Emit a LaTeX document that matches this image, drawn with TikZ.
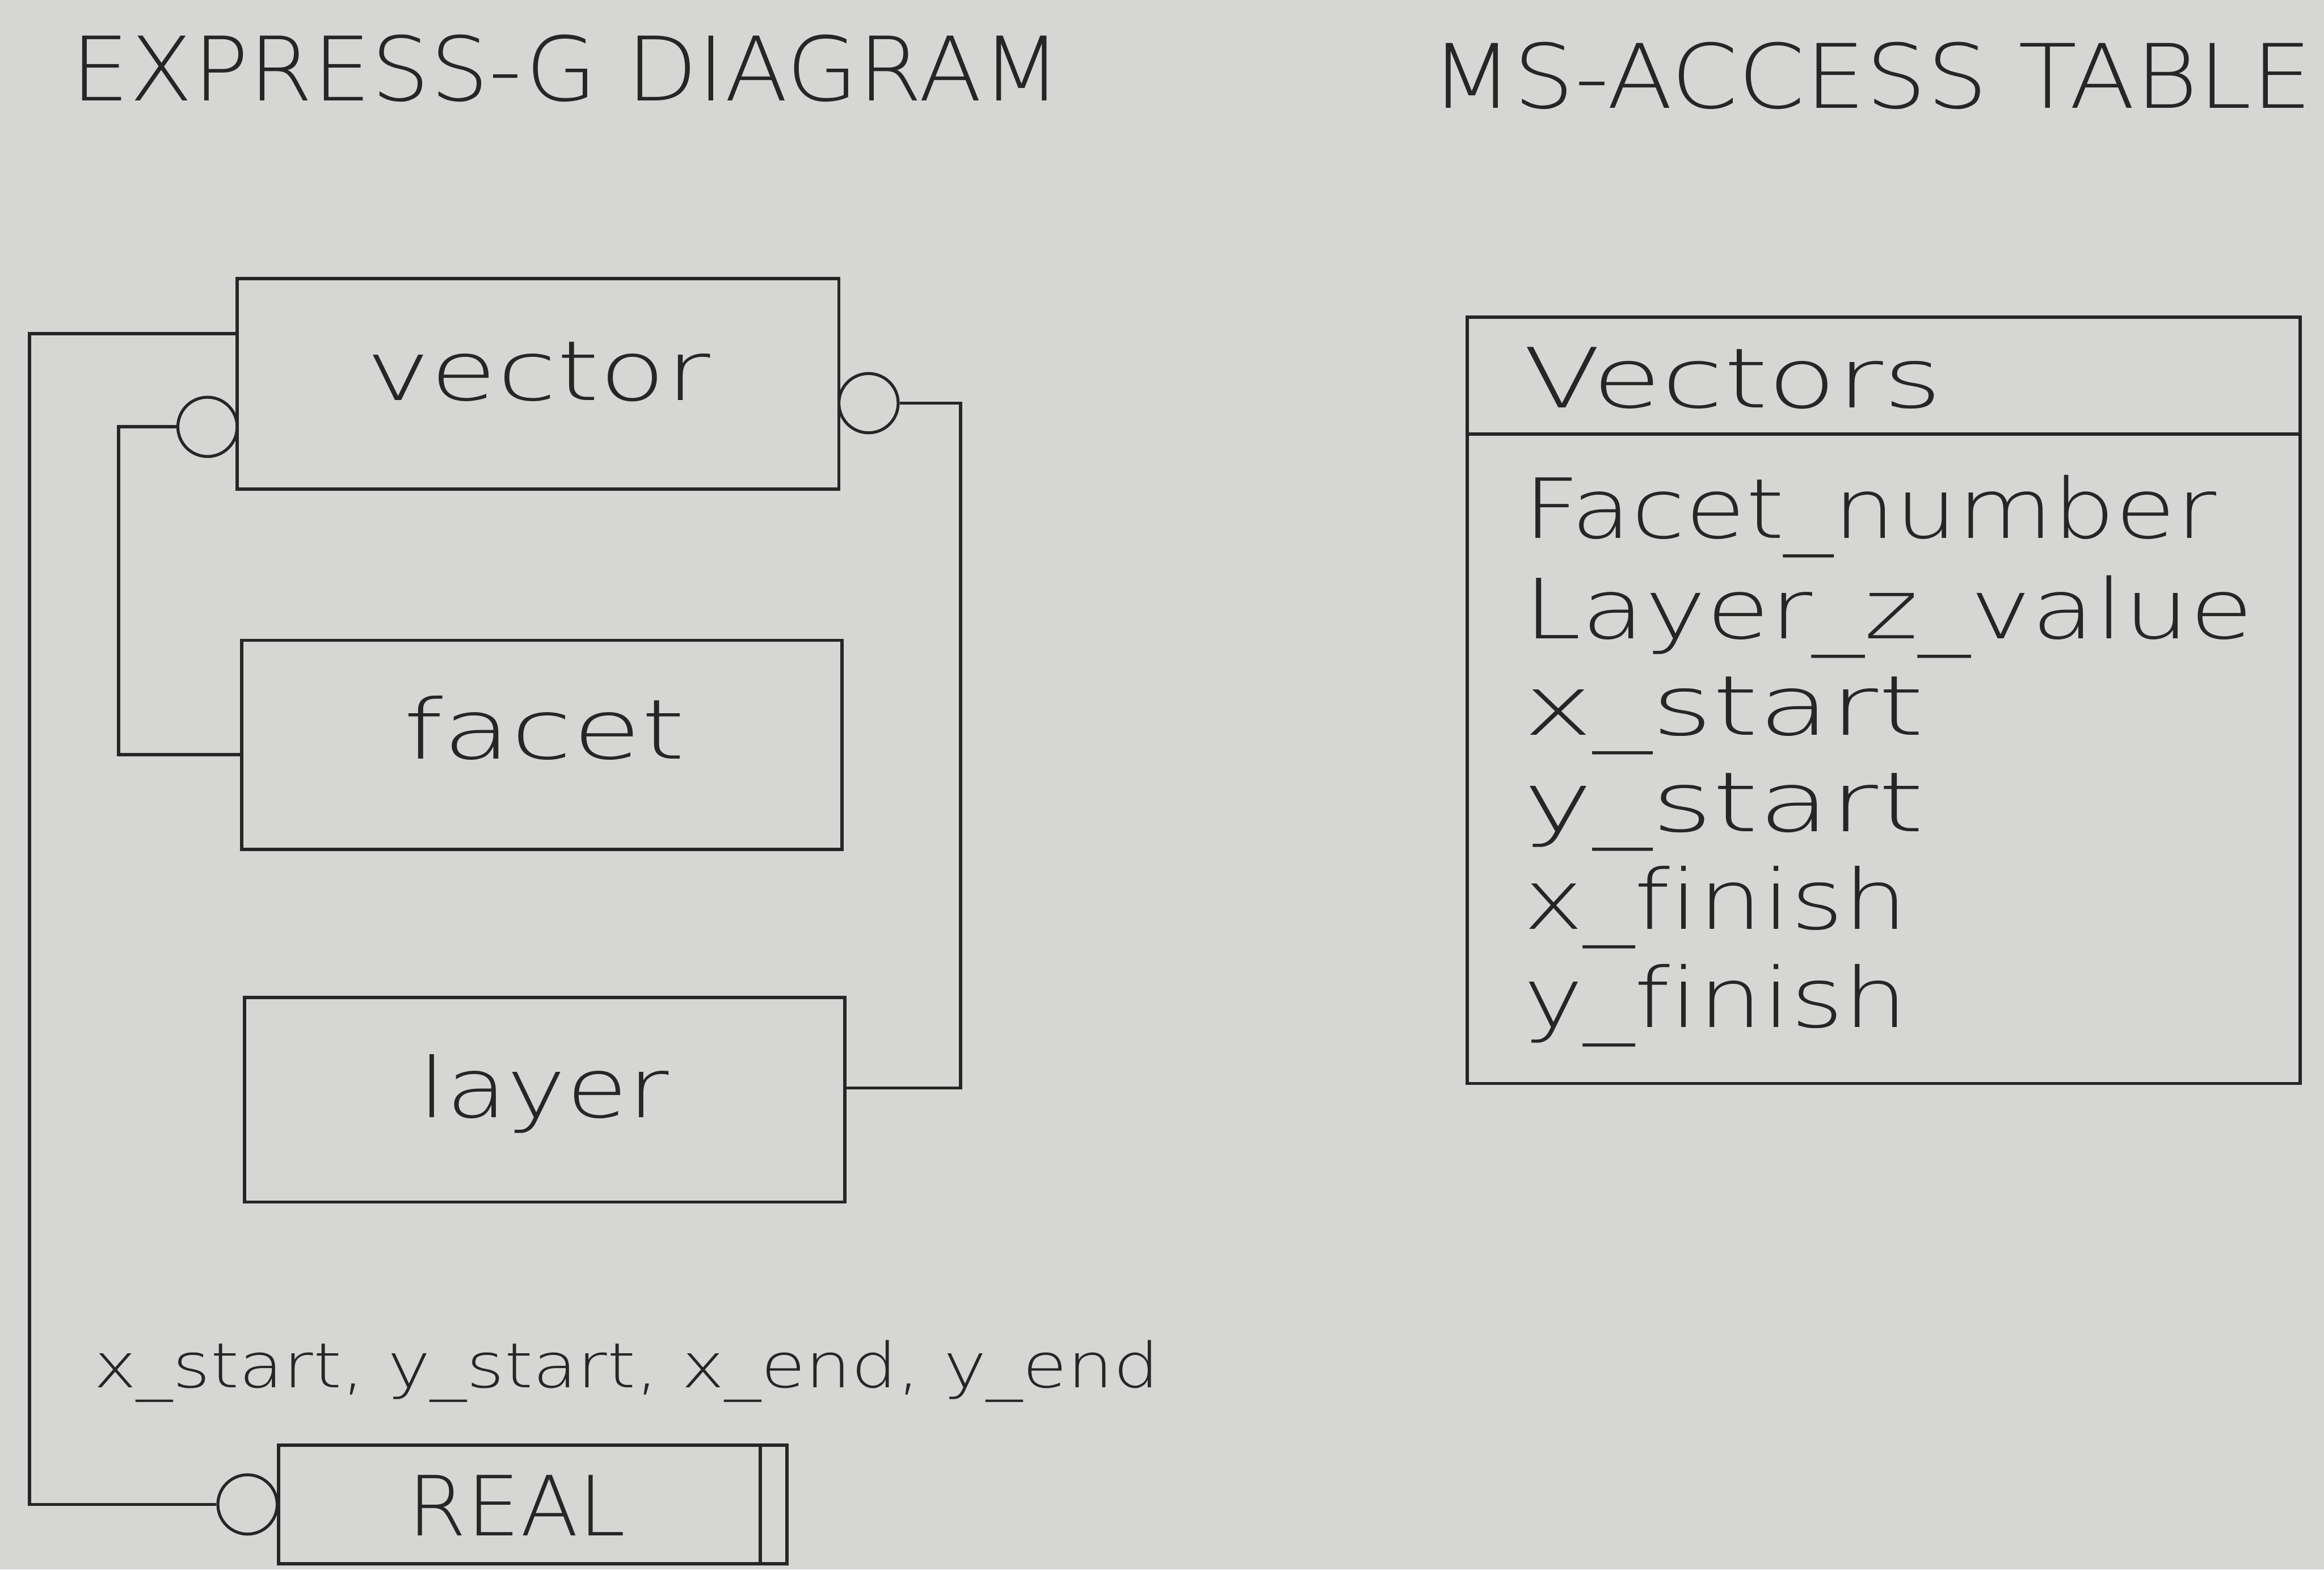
\documentclass[tikz,border=0pt]{standalone}
\usepackage{fontspec}
\usepackage{graphicx}
\newfontfamily\cad{DejaVu Sans ExtraLight}[Ligatures={NoCommon}]
\definecolor{bg}{RGB}{214,214,212}
\definecolor{ink}{RGB}{38,38,38}
\newcommand\fitw[2]{\resizebox{#1pt}{\height}{#2}}
\begin{document}
\begin{tikzpicture}[x=1pt,y=-1pt,
  ent/.style={draw=ink, line width=2.2pt, rectangle, inner sep=0pt},
  tbl/.style={draw=ink, line width=2.2pt, rectangle, inner sep=0pt, minimum width=562pt, minimum height=517pt},
  lbl/.style={inner sep=0pt, anchor=base west, text=ink, font=\cad\fontsize{56}{56}\selectfont},
  ttl/.style={inner sep=0pt, anchor=base west, text=ink, font=\cad\fontsize{60}{60}\selectfont},
  sml/.style={inner sep=0pt, anchor=base west, text=ink, font=\cad\fontsize{42}{42}\selectfont},
  ring/.style={circle, draw=ink, line width=2pt, minimum size=40pt, inner sep=0pt},
  conn/.style={draw=ink, line width=2.2pt, line join=miter}]
\fill[bg] (0,0) rectangle (1568,1059);
\useasboundingbox (0,0) rectangle (1568,1059);

% titles
\node[ttl] (t1) at (48,68) {\fitw{668}{EXPRESS-G DIAGRAM}};
\node[ttl] (t2) at (965,73) {\fitw{595}{MS-ACCESS TABLE}};

% EXPRESS-G entities
\node[ent, minimum width=406pt, minimum height=142pt] (vector) at (363,259) {};
\node[ent, minimum width=405pt, minimum height=141pt] (facet) at (365.5,502.5) {};
\node[ent, minimum width=405pt, minimum height=138pt] (layer) at (367.5,742) {};
\node[ent, minimum width=343pt, minimum height=80pt] (real) at (359.5,1015) {};
\draw[conn] ([xshift=-19pt]real.north east) -- ([xshift=-19pt]real.south east);

\node[lbl] (vlbl) at (247,270) {\fitw{232}{vector}};
\node[lbl] (flbl) at (272,512) {\fitw{190}{facet}};
\node[lbl] (llbl) at (282,754) {\fitw{169}{layer}};
\node[lbl] (rlbl) at (275,1036) {\fitw{147}{REAL}};
\node[sml] (attr) at (63,936) {\fitw{719}{x\_start, y\_start, x\_end, y\_end}};

% rings
\node[ring] (cl) at (140,288) {};
\node[ring] (cr) at (586,272) {};
\node[ring] (creal) at (167,1015) {};

% connectors
\coordinate (vw) at (vector.west |- 0,225);
\coordinate (fw) at (facet.west |- 0,509);
\coordinate (le) at (layer.east |- 0,734);
\draw[conn] (vw) -- (20,225) |- (creal.west);
\draw[conn] (cl.west) -- (80,288) |- (fw);
\draw[conn] (cr.east) -- (648,272) |- (le);

% MS-ACCESS table
\node[tbl] (tbl) at (1271,472.5) {};
\draw[conn] ([yshift=-80pt]tbl.north west) -- ([yshift=-80pt]tbl.north east);
\node[lbl] (h) at (1028,275) {\fitw{282}{Vectors}};
\node[lbl] (r1) at (1028,363) {\fitw{467}{Facet\_number}};
\node[lbl] (r2) at (1028,431) {\fitw{492}{Layer\_z\_value}};
\node[lbl] (r3) at (1028,496) {\fitw{270}{x\_start}};
\node[lbl] (r4) at (1028,561) {\fitw{270}{y\_start}};
\node[lbl] (r5) at (1028,627) {\fitw{259}{x\_finish}};
\node[lbl] (r6) at (1028,693) {\fitw{259}{y\_finish}};
\end{tikzpicture}
\end{document}
